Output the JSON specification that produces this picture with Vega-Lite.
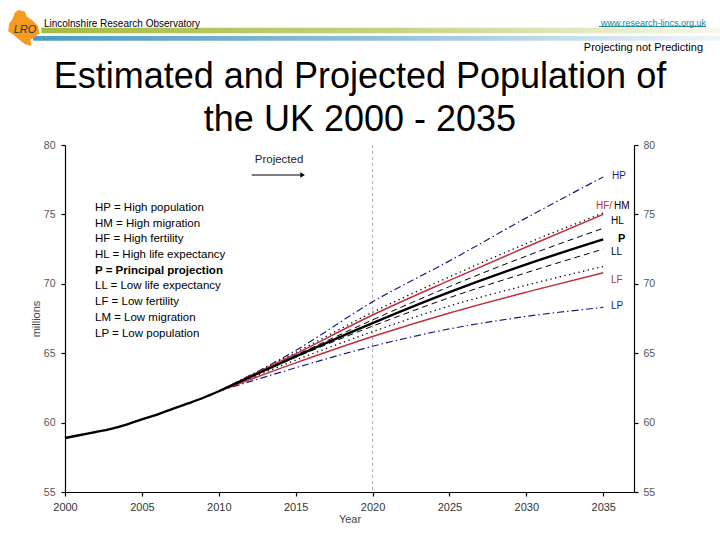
{
  "$schema": "https://vega.github.io/schema/vega-lite/v6.json",
  "width": 569,
  "height": 347,
  "autosize": {"type": "none"},
  "padding": {"left": 65, "top": 145, "right": 86, "bottom": 48},
  "background": "white",
  "config": {
    "view": {"stroke": null},
    "font": "Liberation Sans",
    "axis": {
      "domainColor": "#000", "tickColor": "#000", "domainWidth": 1.2, "tickWidth": 1.2,
      "labelColor": "#555", "labelFont": "Liberation Sans", "labelFontSize": 10.5,
      "titleFont": "Liberation Sans", "titleFontSize": 11, "titleFontWeight": "normal", "titleColor": "#444",
      "grid": false, "tickSize": 4, "labelPadding": 5
    }
  },
  "datasets": {
    "lines": [
      {"series": "Estimated", "year": 2000, "value": 58.89},
      {"series": "Estimated", "year": 2001, "value": 59.11},
      {"series": "Estimated", "year": 2002, "value": 59.32},
      {"series": "Estimated", "year": 2003, "value": 59.55},
      {"series": "Estimated", "year": 2004, "value": 59.85},
      {"series": "Estimated", "year": 2005, "value": 60.24},
      {"series": "Estimated", "year": 2006, "value": 60.58},
      {"series": "Estimated", "year": 2007, "value": 60.99},
      {"series": "Estimated", "year": 2008, "value": 61.38},
      {"series": "Estimated", "year": 2009, "value": 61.79},
      {"series": "Estimated", "year": 2010, "value": 62.26},
      {"series": "HP", "year": 2010, "value": 62.26},
      {"series": "HP", "year": 2015, "value": 65.2},
      {"series": "HP", "year": 2020, "value": 68.7},
      {"series": "HP", "year": 2025, "value": 71.65},
      {"series": "HP", "year": 2030, "value": 74.75},
      {"series": "HP", "year": 2035, "value": 77.7},
      {"series": "HM", "year": 2010, "value": 62.26},
      {"series": "HM", "year": 2015, "value": 65.05},
      {"series": "HM", "year": 2020, "value": 67.95},
      {"series": "HM", "year": 2025, "value": 70.5},
      {"series": "HM", "year": 2030, "value": 72.9},
      {"series": "HM", "year": 2035, "value": 75.1},
      {"series": "HF", "year": 2010, "value": 62.26},
      {"series": "HF", "year": 2015, "value": 64.95},
      {"series": "HF", "year": 2020, "value": 67.75},
      {"series": "HF", "year": 2025, "value": 70.25},
      {"series": "HF", "year": 2030, "value": 72.65},
      {"series": "HF", "year": 2035, "value": 75.0},
      {"series": "HL", "year": 2010, "value": 62.26},
      {"series": "HL", "year": 2015, "value": 64.85},
      {"series": "HL", "year": 2020, "value": 67.4},
      {"series": "HL", "year": 2025, "value": 69.8},
      {"series": "HL", "year": 2030, "value": 72.0},
      {"series": "HL", "year": 2035, "value": 74.0},
      {"series": "LL", "year": 2010, "value": 62.26},
      {"series": "LL", "year": 2015, "value": 64.7},
      {"series": "LL", "year": 2020, "value": 66.95},
      {"series": "LL", "year": 2025, "value": 69.0},
      {"series": "LL", "year": 2030, "value": 70.8},
      {"series": "LL", "year": 2035, "value": 72.5},
      {"series": "LM", "year": 2010, "value": 62.26},
      {"series": "LM", "year": 2015, "value": 64.5},
      {"series": "LM", "year": 2020, "value": 66.55},
      {"series": "LM", "year": 2025, "value": 68.4},
      {"series": "LM", "year": 2030, "value": 69.9},
      {"series": "LM", "year": 2035, "value": 71.25},
      {"series": "LF", "year": 2010, "value": 62.26},
      {"series": "LF", "year": 2015, "value": 64.3},
      {"series": "LF", "year": 2020, "value": 66.2},
      {"series": "LF", "year": 2025, "value": 67.9},
      {"series": "LF", "year": 2030, "value": 69.4},
      {"series": "LF", "year": 2035, "value": 70.8},
      {"series": "LP", "year": 2010, "value": 62.26},
      {"series": "LP", "year": 2015, "value": 63.95},
      {"series": "LP", "year": 2020, "value": 65.5},
      {"series": "LP", "year": 2025, "value": 66.75},
      {"series": "LP", "year": 2030, "value": 67.65},
      {"series": "LP", "year": 2035, "value": 68.3},
      {"series": "P", "year": 2010, "value": 62.26},
      {"series": "P", "year": 2015, "value": 64.77},
      {"series": "P", "year": 2020, "value": 67.17},
      {"series": "P", "year": 2025, "value": 69.4},
      {"series": "P", "year": 2030, "value": 71.4},
      {"series": "P", "year": 2035, "value": 73.2}
    ],
    "endLabels": [
      {"label": "HP", "series": "HP", "year": 2035.57, "value": 77.77},
      {"label": "HF/", "series": "HF", "year": 2034.53, "value": 75.61},
      {"label": "HM", "series": "HM", "year": 2035.7, "value": 75.61},
      {"label": "HL", "series": "HL", "year": 2035.5, "value": 74.52},
      {"label": "LL", "series": "LL", "year": 2035.5, "value": 72.3},
      {"label": "LF", "series": "LF", "year": 2035.5, "value": 70.27},
      {"label": "LP", "series": "LP", "year": 2035.5, "value": 68.4}
    ]
  },
  "layer": [
    {
      "layer": [
        {
          "data": {"values": [{}]},
          "mark": {"type": "rule", "color": "#aaaaaa", "strokeDash": [3, 3], "strokeWidth": 1},
          "encoding": {
            "x": {"datum": 2020, "type": "quantitative", "scale": {"domain": [2000, 2037], "nice": false, "zero": false}}
          }
        },
        {
          "data": {"name": "lines"},
          "transform": [{"filter": "datum.series == 'HP' || datum.series == 'LP'"}],
          "mark": {"type": "line", "interpolate": "monotone", "color": "#1c1c80", "strokeWidth": 1.2, "strokeDash": [7, 3, 1.5, 3]},
          "encoding": {
            "x": {
              "field": "year", "type": "quantitative",
              "scale": {"domain": [2000, 2037], "nice": false, "zero": false},
              "axis": {"values": [2000, 2005, 2010, 2015, 2020, 2025, 2030, 2035], "format": "d", "title": "Year", "labelFontSize": 11, "labelColor": "#333", "titlePadding": 1, "labelFlush": false}
            },
            "y": {
              "field": "value", "type": "quantitative",
              "scale": {"domain": [55, 80], "nice": false, "zero": false},
              "axis": {"orient": "left", "values": [55, 60, 65, 70, 75, 80], "title": "millions", "titlePadding": 2, "labelPadding": 6}
            },
            "detail": {"field": "series"}
          }
        },
        {
          "data": {"name": "lines"},
          "transform": [{"filter": "datum.series == 'HL' || datum.series == 'LL'"}],
          "mark": {"type": "line", "interpolate": "monotone", "color": "#000000", "strokeWidth": 1, "strokeDash": [6, 4]},
          "encoding": {
            "x": {"field": "year", "type": "quantitative"},
            "y": {"field": "value", "type": "quantitative"},
            "detail": {"field": "series"}
          }
        },
        {
          "data": {"name": "lines"},
          "transform": [{"filter": "datum.series == 'HM' || datum.series == 'LM'"}],
          "mark": {"type": "line", "interpolate": "monotone", "color": "#000000", "strokeWidth": 1.3, "strokeDash": [1.3, 3.5]},
          "encoding": {
            "x": {"field": "year", "type": "quantitative"},
            "y": {"field": "value", "type": "quantitative"},
            "detail": {"field": "series"}
          }
        },
        {
          "data": {"name": "lines"},
          "transform": [{"filter": "datum.series == 'HF' || datum.series == 'LF'"}],
          "mark": {"type": "line", "interpolate": "monotone", "color": "#c0303a", "strokeWidth": 1.5},
          "encoding": {
            "x": {"field": "year", "type": "quantitative"},
            "y": {"field": "value", "type": "quantitative"},
            "detail": {"field": "series"}
          }
        },
        {
          "data": {"name": "lines"},
          "transform": [{"filter": "datum.series == 'Estimated' || datum.series == 'P'"}],
          "mark": {"type": "line", "interpolate": "monotone", "color": "#000000", "strokeWidth": 2.4},
          "encoding": {
            "x": {"field": "year", "type": "quantitative"},
            "y": {"field": "value", "type": "quantitative"},
            "detail": {"field": "series"}
          }
        },
        {
          "data": {"name": "endLabels"},
          "mark": {"type": "text", "align": "left", "baseline": "middle", "fontSize": 10},
          "encoding": {
            "x": {"field": "year", "type": "quantitative"},
            "y": {"field": "value", "type": "quantitative"},
            "text": {"field": "label"},
            "color": {
              "field": "series", "type": "nominal", "legend": null,
              "scale": {
                "domain": ["HP", "HM", "HF", "HL", "LL", "LF", "LP"],
                "range": ["#1c1c80", "#000000", "#c0303a", "#000000", "#000000", "#c0303a", "#1c1c80"]
              }
            }
          }
        },
        {
          "data": {"values": [{}]},
          "mark": {"type": "text", "text": "P", "align": "left", "baseline": "middle", "fontSize": 11, "fontWeight": "bold", "color": "#000"},
          "encoding": {
            "x": {"datum": 2035.96, "type": "quantitative"},
            "y": {"datum": 73.2, "type": "quantitative"}
          }
        },
        {
          "data": {"values": [{}]},
          "mark": {
            "type": "text", "align": "left", "baseline": "middle", "fontSize": 11.5, "lineHeight": 15.7, "color": "#000",
            "text": ["HP = High population", "HM = High migration", "HF = High fertility", "HL = High life expectancy"]
          },
          "encoding": {
            "x": {"datum": 2001.95, "type": "quantitative"},
            "y": {"datum": 75.46, "type": "quantitative"}
          }
        },
        {
          "data": {"values": [{}]},
          "mark": {"type": "text", "text": "P = Principal projection", "align": "left", "baseline": "middle", "fontSize": 11.5, "fontWeight": "bold", "color": "#000"},
          "encoding": {
            "x": {"datum": 2001.95, "type": "quantitative"},
            "y": {"datum": 70.94, "type": "quantitative"}
          }
        },
        {
          "data": {"values": [{}]},
          "mark": {
            "type": "text", "align": "left", "baseline": "middle", "fontSize": 11.5, "lineHeight": 15.7, "color": "#000",
            "text": ["LL = Low life expectancy", "LF = Low fertility", "LM = Low migration", "LP = Low population"]
          },
          "encoding": {
            "x": {"datum": 2001.95, "type": "quantitative"},
            "y": {"datum": 69.81, "type": "quantitative"}
          }
        },
        {
          "data": {"values": [{}]},
          "mark": {"type": "text", "text": "Projected", "align": "center", "baseline": "middle", "fontSize": 11.5, "color": "#222"},
          "encoding": {
            "x": {"datum": 2013.92, "type": "quantitative"},
            "y": {"datum": 78.92, "type": "quantitative"}
          }
        },
        {
          "data": {"values": [{}]},
          "mark": {"type": "rule", "color": "#000", "strokeWidth": 1.2},
          "encoding": {
            "x": {"datum": 2012.14, "type": "quantitative"},
            "x2": {"datum": 2015.3},
            "y": {"datum": 77.84, "type": "quantitative"}
          }
        },
        {
          "data": {"values": [{}]},
          "mark": {"type": "point", "shape": "triangle-right", "filled": true, "color": "#000", "size": 30, "opacity": 1},
          "encoding": {
            "x": {"datum": 2015.45, "type": "quantitative"},
            "y": {"datum": 77.84, "type": "quantitative"}
          }
        },
        {
          "data": {"values": [{}]},
          "mark": {
            "type": "text", "align": "center", "baseline": "alphabetic", "fontSize": 36, "lineHeight": 43, "color": "#000",
            "text": ["Estimated and Projected Population of", "the UK 2000 - 2035"]
          },
          "encoding": {
            "x": {"datum": 2019.18, "type": "quantitative"},
            "y": {"datum": 84.11, "type": "quantitative"}
          }
        },
        {
          "data": {"values": [{}]},
          "mark": {"type": "rect", "fill": {"gradient": "linear", "x1": 0, "y1": 0, "x2": 1, "y2": 0, "stops": [{"offset": 0, "color": "#a3bc3c"}, {"offset": 0.5, "color": "#c3d27c"}, {"offset": 1, "color": "#f6f8ea"}]}},
          "encoding": {
            "x": {"datum": 1998.46, "type": "quantitative"},
            "x2": {"datum": 2042.6},
            "y": {"datum": 88.45, "type": "quantitative"},
            "y2": {"datum": 88.05}
          }
        },
        {
          "data": {"values": [{}]},
          "mark": {"type": "rect", "fill": {"gradient": "linear", "x1": 0, "y1": 0, "x2": 1, "y2": 0, "stops": [{"offset": 0, "color": "#4a9cbf"}, {"offset": 0.5, "color": "#8fc1d6"}, {"offset": 1, "color": "#eef5f8"}]}},
          "encoding": {
            "x": {"datum": 1997.92, "type": "quantitative"},
            "x2": {"datum": 2042.6},
            "y": {"datum": 87.85, "type": "quantitative"},
            "y2": {"datum": 87.51}
          }
        },
        {
          "data": {"values": [{}]},
          "mark": {"type": "point", "filled": true, "color": "#f39c1f", "opacity": 1, "size": 1369,
            "shape": "M -0.3 -1 L 0.05 -0.92 L 0.15 -0.65 L 0.45 -0.45 L 0.75 -0.15 L 0.85 0.25 L 0.6 0.45 L 0.35 0.6 L 0.4 0.95 L 0.05 0.85 L -0.25 0.6 L -0.55 0.35 L -0.85 0.15 L -0.8 -0.25 L -0.6 -0.55 L -0.5 -0.85 Z"},
          "encoding": {
            "x": {"datum": 1997.33, "type": "quantitative"},
            "y": {"datum": 88.39, "type": "quantitative"}
          }
        },
        {
          "data": {"values": [{}]},
          "mark": {"type": "text", "text": "LRO", "align": "center", "baseline": "middle", "fontSize": 11, "fontStyle": "italic", "color": "#333"},
          "encoding": {
            "x": {"datum": 1997.4, "type": "quantitative"},
            "y": {"datum": 88.3, "type": "quantitative"}
          }
        },
        {
          "data": {"values": [{}]},
          "mark": {"type": "text", "text": "Lincolnshire Research Observatory", "align": "left", "baseline": "middle", "fontSize": 10, "color": "#000"},
          "encoding": {
            "x": {"datum": 1998.63, "type": "quantitative"},
            "y": {"datum": 88.75, "type": "quantitative"}
          }
        },
        {
          "data": {"values": [{}]},
          "mark": {"type": "text", "text": "www.research-lincs.org.uk", "align": "right", "baseline": "middle", "fontSize": 9, "color": "#168592"},
          "encoding": {
            "x": {"datum": 2041.68, "type": "quantitative"},
            "y": {"datum": 88.78, "type": "quantitative"}
          }
        },
        {
          "data": {"values": [{}]},
          "mark": {"type": "rule", "color": "#168592", "strokeWidth": 1},
          "encoding": {
            "x": {"datum": 2034.72, "type": "quantitative"},
            "x2": {"datum": 2041.68},
            "y": {"datum": 88.54, "type": "quantitative"}
          }
        },
        {
          "data": {"values": [{}]},
          "mark": {"type": "text", "text": "Projecting not Predicting", "align": "right", "baseline": "middle", "fontSize": 11, "color": "#000"},
          "encoding": {
            "x": {"datum": 2041.49, "type": "quantitative"},
            "y": {"datum": 86.99, "type": "quantitative"}
          }
        }
      ]
    },
    {
      "data": {"values": [{}]},
      "mark": {"type": "rule", "opacity": 0},
      "encoding": {
        "y": {
          "datum": 55, "type": "quantitative",
          "scale": {"domain": [55, 80], "nice": false, "zero": false},
          "axis": {"orient": "right", "values": [55, 60, 65, 70, 75, 80], "title": null, "labelPadding": 5}
        }
      }
    }
  ],
  "resolve": {"scale": {"y": "independent"}}
}
